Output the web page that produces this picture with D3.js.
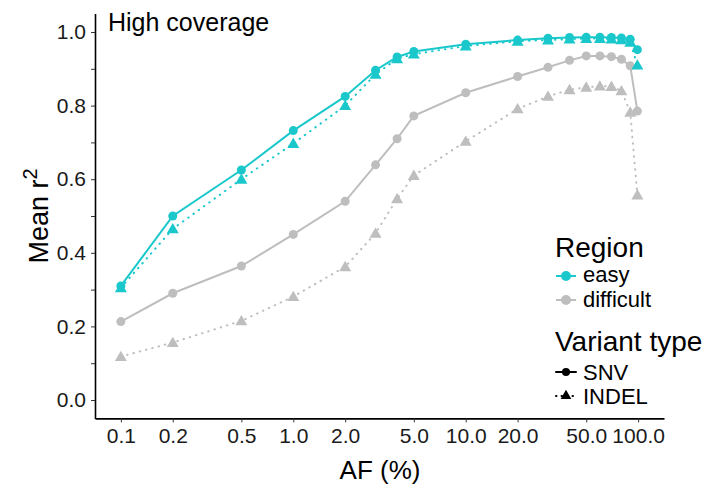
<!DOCTYPE html>
<html>
<head>
    <style>
        body { margin: 0; background: #fff; }
        svg text { font-family: "Liberation Sans", Arial, sans-serif; fill: #000; }
        .tick text { font-size: 21px; fill: #1a1a1a; }
    </style>
    <script src="https://d3js.org/d3.v7.min.js"></script>
</head>
<body>
    <svg width="715" height="485"></svg>

    <script>
        // allele frequency bins (%)
        var af = [0.1, 0.2, 0.5, 1, 2, 3, 4, 5, 10, 20, 30, 40, 50, 60, 70, 80, 90, 99];

        var easySNV = [0.31, 0.50, 0.625, 0.732, 0.825, 0.896, 0.932, 0.947, 0.967, 0.978, 0.983, 0.985, 0.986, 0.986, 0.985, 0.984, 0.980, 0.952];
        var easyINDEL = [0.305, 0.465, 0.60, 0.697, 0.80, 0.885, 0.927, 0.94, 0.962, 0.975, 0.978, 0.981, 0.982, 0.982, 0.981, 0.979, 0.972, 0.91];
        var diffSNV = [0.213, 0.29, 0.364, 0.45, 0.54, 0.639, 0.71, 0.772, 0.835, 0.879, 0.904, 0.923, 0.935, 0.935, 0.933, 0.926, 0.908, 0.785];
        var diffINDEL = [0.118, 0.156, 0.215, 0.281, 0.362, 0.453, 0.547, 0.61, 0.703, 0.791, 0.825, 0.843, 0.85, 0.853, 0.852, 0.84, 0.782, 0.557];

        var xTicks = [0.1, 0.2, 0.5, 1, 2, 5, 10, 20, 50, 100];
        var yTicks = [0, 0.1, 0.2, 0.3, 0.4, 0.5, 0.6, 0.7, 0.8, 0.9, 1.0];

        var teal = "#1ac8cc", grey = "#bebebe";

        var series = [
            { name: "difficult INDEL", values: diffINDEL, color: grey, type: "INDEL" },
            { name: "difficult SNV", values: diffSNV, color: grey, type: "SNV" },
            { name: "easy INDEL", values: easyINDEL, color: teal, type: "INDEL" },
            { name: "easy SNV", values: easySNV, color: teal, type: "SNV" }
        ];

        var svg = d3.select("svg");

        // log x with ggplot-like 5% padding
        var x = d3.scaleLog()
                  .domain([Math.pow(10, -1.15), Math.pow(10, 2.15)])
                  .range([95, 664]);
        var y = d3.scaleLinear()
                  .domain([-0.05, 1.05])
                  .range([418.4, 13.6]);

        var fmt = d3.format(".1f");

        var xAxis = svg.append("g")
            .attr("transform", "translate(0," + y(-0.05) + ")")
            .call(d3.axisBottom(x).tickValues(xTicks).tickFormat(fmt).tickSize(4).tickSizeOuter(0).tickPadding(6));
        xAxis.select(".domain").attr("stroke", "#000").attr("stroke-width", 1.6);
        xAxis.selectAll(".tick line").attr("stroke", "#333");

        var yAxis = svg.append("g")
            .attr("transform", "translate(" + x.range()[0] + ",0)")
            .call(d3.axisLeft(y).tickValues(yTicks)
                .tickFormat(function(d) { return Math.round(d * 10) % 2 === 0 ? fmt(d) : ""; })
                .tickSize(4).tickSizeOuter(0).tickPadding(5));
        yAxis.select(".domain").attr("stroke", "#000").attr("stroke-width", 1.6);
        yAxis.selectAll(".tick line").attr("stroke", "#333");

        var line = d3.line()
            .x(function(d) { return x(d[0]); })
            .y(function(d) { return y(d[1]); });

        var tri = d3.symbol().type(d3.symbolTriangle).size(62);

        series.forEach(function(s) {
            var pts = af.map(function(a, i) { return [a, s.values[i]]; });
            svg.append("path")
               .datum(pts)
               .attr("d", line)
               .attr("fill", "none")
               .attr("stroke", s.color)
               .attr("stroke-width", 2)
               .attr("stroke-linecap", "round")
               .attr("stroke-dasharray", s.type === "INDEL" ? "0.5,6" : null);

            var g = svg.append("g");
            if (s.type === "SNV") {
                g.selectAll("circle").data(pts).enter().append("circle")
                 .attr("cx", function(d) { return x(d[0]); })
                 .attr("cy", function(d) { return y(d[1]); })
                 .attr("r", 4.5)
                 .attr("fill", s.color);
            } else {
                g.selectAll("path").data(pts).enter().append("path")
                 .attr("d", tri)
                 .attr("transform", function(d) { return "translate(" + x(d[0]) + "," + (y(d[1]) + 1) + ")"; })
                 .attr("fill", s.color);
            }
        });

        // title and axis labels
        svg.append("text")
           .attr("x", 108).attr("y", 31)
           .style("font-size", "25px")
           .text("High coverage");

        svg.append("text")
           .attr("x", 380).attr("y", 479)
           .attr("text-anchor", "middle")
           .style("font-size", "26px")
           .text("AF (%)");

        var yt = svg.append("text")
           .attr("transform", "translate(48,216) rotate(-90)")
           .attr("text-anchor", "middle")
           .style("font-size", "27px");
        yt.append("tspan").text("Mean r");
        yt.append("tspan").attr("dy", -11).style("font-size", "20px").text("2");

        // legend
        var leg = svg.append("g").attr("transform", "translate(555,0)");
        leg.append("text").attr("x", 0).attr("y", 257).style("font-size", "28px").text("Region");
        var regions = [["easy", teal, 276, 282], ["difficult", grey, 300, 307]];
        regions.forEach(function(r) {
            leg.append("line").attr("x1", 1).attr("x2", 21).attr("y1", r[2]).attr("y2", r[2])
               .attr("stroke", r[1]).attr("stroke-width", 2);
            leg.append("circle").attr("cx", 11).attr("cy", r[2]).attr("r", 5).attr("fill", r[1]);
            leg.append("text").attr("x", 28).attr("y", r[3]).style("font-size", "22px").text(r[0]);
        });

        leg.append("text").attr("x", 0).attr("y", 351).style("font-size", "28px").text("Variant type");
        var types = [["SNV", 372, 380], ["INDEL", 396, 404]];
        types.forEach(function(t) {
            leg.append("line").attr("x1", 1).attr("x2", 21).attr("y1", t[1]).attr("y2", t[1])
               .attr("stroke", "#000").attr("stroke-width", 2)
               .attr("stroke-linecap", "round")
               .attr("stroke-dasharray", t[0] === "INDEL" ? "0.5,5" : null);
            if (t[0] === "SNV") {
                leg.append("circle").attr("cx", 11).attr("cy", t[1]).attr("r", 4).attr("fill", "#000");
            } else {
                leg.append("path").attr("d", d3.symbol().type(d3.symbolTriangle).size(50))
                   .attr("transform", "translate(11," + t[1] + ")").attr("fill", "#000");
            }
            leg.append("text").attr("x", 28).attr("y", t[2]).style("font-size", "22px").text(t[0]);
        });
    </script>
</body>
</html>
